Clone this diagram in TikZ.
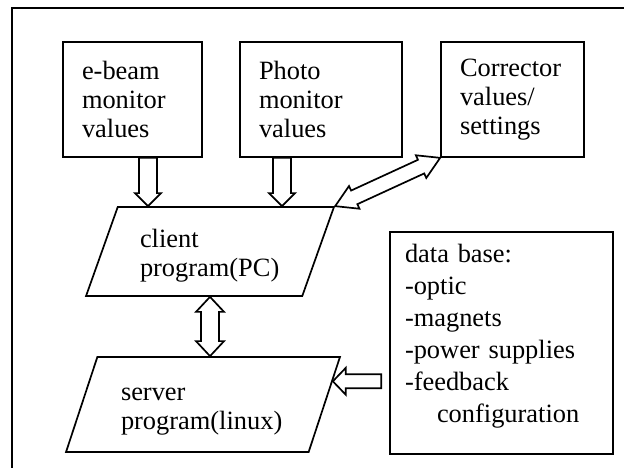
\documentclass[tikz,border=0pt]{standalone}
\usepackage{fontspec}
\setmainfont{Liberation Serif}
\usetikzlibrary{calc,shapes.geometric}

\begin{document}
\begin{tikzpicture}[x=1bp, y=-1bp,
    font=\fontsize{26.5}{29}\selectfont,
    box/.style={draw, line width=1.7bp, align=left, inner xsep=19bp, inner ysep=0pt, minimum height=115bp},
    prog/.style={trapezium, draw, line width=1.7bp, align=left, inner sep=0pt, trapezium stretches=true},
    arrow shaft/.store in=\shafthalf, arrow head/.store in=\headhalf, arrow headlen/.store in=\headlen,
    arrow shaft=9bp, arrow head=13bp, arrow headlen=13bp,
    fatarrow/.style={draw, line width=1.7bp, fill=white, line join=miter, to path={
        let \p1=($(\tikztotarget)-(\tikztostart)$), \n1={atan2(\y1,\x1)}, \n2={veclen(\x1,\y1)} in
        ($(\tikztostart)+(\n1+90:\shafthalf)$)
        -- ($(\tikztostart)+(\n1:\n2-\headlen)+(\n1+90:\shafthalf)$)
        -- ($(\tikztostart)+(\n1:\n2-\headlen)+(\n1+90:\headhalf)$)
        -- (\tikztotarget)
        -- ($(\tikztostart)+(\n1:\n2-\headlen)+(\n1-90:\headhalf)$)
        -- ($(\tikztostart)+(\n1:\n2-\headlen)+(\n1-90:\shafthalf)$)
        -- ($(\tikztostart)+(\n1-90:\shafthalf)$) -- cycle}},
    fatarrows/.style={draw, line width=1.7bp, fill=white, line join=miter, to path={
        let \p1=($(\tikztotarget)-(\tikztostart)$), \n1={atan2(\y1,\x1)}, \n2={veclen(\x1,\y1)} in
        ($(\tikztostart)+(\n1:\headlen)+(\n1+90:\shafthalf)$)
        -- ($(\tikztostart)+(\n1:\n2-\headlen)+(\n1+90:\shafthalf)$)
        -- ($(\tikztostart)+(\n1:\n2-\headlen)+(\n1+90:\headhalf)$)
        -- (\tikztotarget)
        -- ($(\tikztostart)+(\n1:\n2-\headlen)+(\n1-90:\headhalf)$)
        -- ($(\tikztostart)+(\n1:\n2-\headlen)+(\n1-90:\shafthalf)$)
        -- ($(\tikztostart)+(\n1:\headlen)+(\n1-90:\shafthalf)$)
        -- ($(\tikztostart)+(\n1:\headlen)+(\n1-90:\headhalf)$)
        -- (\tikztostart)
        -- ($(\tikztostart)+(\n1:\headlen)+(\n1+90:\headhalf)$) -- cycle}}]

    \useasboundingbox (0,0) rectangle (624,468);

    % Frame
    \draw[line width=1.7bp] (12,468) -- (12,8) -- (624,8);

    % Input boxes
    \node[box, text width=101bp] (ebeam) at (132.5,99.5) {e-beam\\monitor\\values};
    \node[box, text width=124bp] (photo) at (321,99.5) {Photo\\monitor\\values};
    \node[box, text width=105bp] (corr) at (512.5,99.5) {Corrector\\values/\\settings};

    % Programs
    \node[prog, trapezium left angle=69.7, trapezium right angle=110.3,
        minimum width=248bp, minimum height=89bp,
        text width=140bp, text height=29bp, text depth=36bp] (client) at (210,251.5) {client\\program(PC)};
    \node[prog, trapezium left angle=69.5, trapezium right angle=110.5,
        minimum width=274bp, minimum height=95bp, font=\fontsize{26.5}{30}\selectfont,
        text width=164bp, text height=28bp, text depth=37bp] (server) at (203,404.5) {server\\program(linux)};

    % Data base
    \node[box, inner xsep=15bp, text width=193bp, text height=31bp, text depth=191bp,
        font=\fontsize{26.5}{32}\selectfont] (data) at (501.5,343)
        {data base:\\-optic\\-magnets\\-power supplies\\-feedback\\\hspace*{32bp}configuration};

    % Monitor values into the client
    \coordinate (ebout) at ($(ebeam.south)+(15.5,0)$);
    \coordinate (ebin) at (ebout |- client.north);
    \draw[fatarrow] (ebout) to (ebin);
    \coordinate (phout) at ($(photo.south)+(-39,0)$);
    \coordinate (phin) at (phout |- client.north);
    \draw[fatarrow] (phout) to (phin);

    % Client <-> corrector, client <-> server
    \draw[fatarrows, arrow shaft=7.5bp, arrow head=12.5bp, arrow headlen=21bp] (client.top right corner) to (corr.south west);
    \draw[fatarrows, arrow head=14bp, arrow headlen=15bp] (client.south) to (client.south |- server.north);

    % Data base into the server
    \coordinate (dbin) at ($(server.top right corner)!0.26!(server.bottom right corner)$);
    \coordinate (dbout) at ($(data.west |- dbin)+(-8,0)$);
    \draw[fatarrow, arrow shaft=7bp, arrow head=13.5bp] (dbout) to (dbin);

\end{tikzpicture}
\end{document}
